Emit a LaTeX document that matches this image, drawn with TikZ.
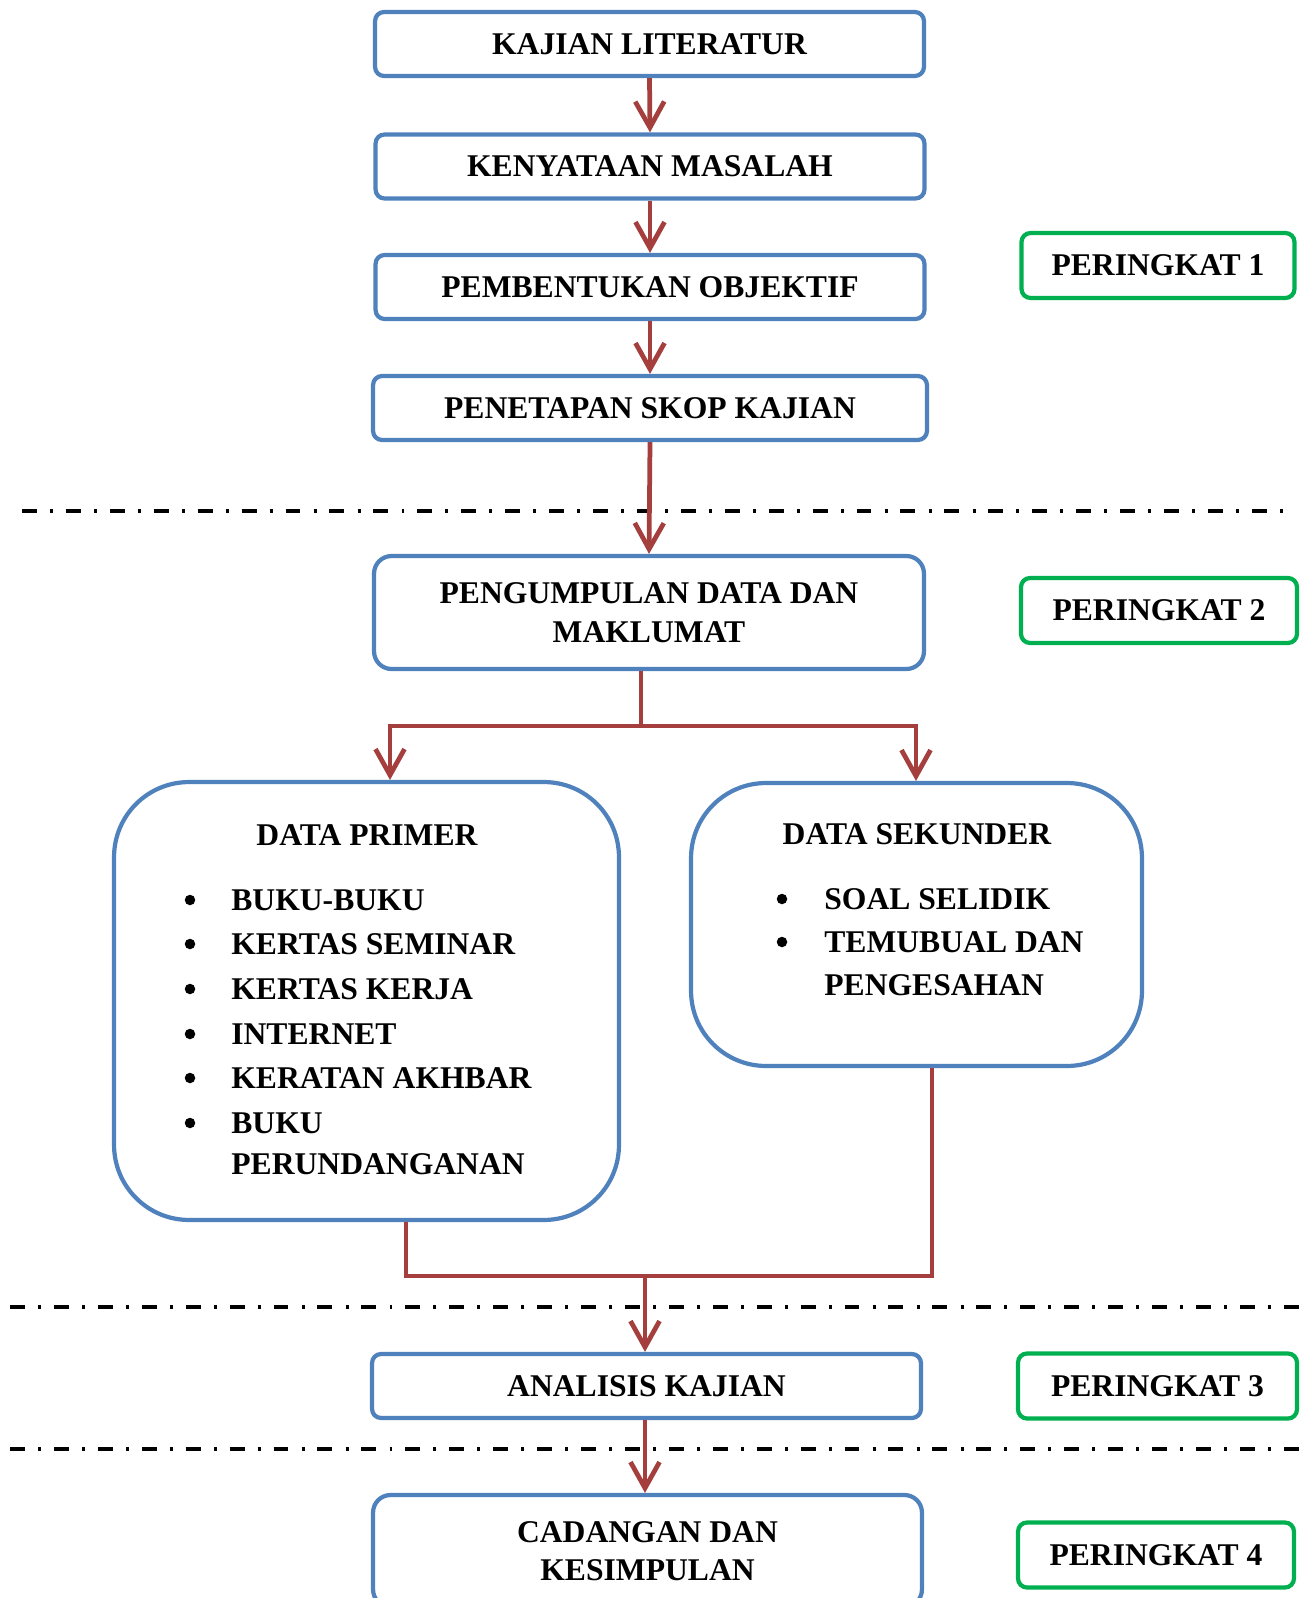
\documentclass[tikz,border=0pt]{standalone}
\usepackage{fontspec}
\setmainfont{Liberation Serif}
\usetikzlibrary{arrows.meta}

\definecolor{boxblue}{HTML}{4F81BD}
\definecolor{flowred}{HTML}{A43F3D}
\definecolor{stagegreen}{HTML}{00B050}

\tikzset{
  every node/.style={font=\fontsize{18pt}{22pt}\selectfont\bfseries},
  stepbox/.style={draw=boxblue,line width=2.4pt,rounded corners=0.18cm,
                  minimum width=10.98cm,minimum height=1.28cm,align=center},
  bigbox/.style={draw=boxblue,line width=2.4pt,rounded corners=1.5cm},
  stagebox/.style={draw=stagegreen,line width=2.4pt,rounded corners=0.18cm,
                   minimum width=5.46cm,minimum height=1.3cm},
  flow/.style={draw=flowred,line width=2.7pt},
  flowarrow/.style={flow,-{Straight Barb[length=0.52cm,width=0.58cm,line width=2.7pt]}},
  sepline/.style={line width=2.4pt,dash pattern=on 8.5pt off 7.5pt on 1.7pt off 7.3pt},
  itemtext/.style={anchor=west,inner sep=0pt},
  dot/.style={circle,fill,inner sep=0pt,minimum size=0.21cm},
}

\begin{document}
\begin{tikzpicture}[x=0.02cm,y=-0.02cm]
\useasboundingbox (0,0) rectangle (1303,1598);

% peringkat 1
\node [stepbox] (kajian)     at (649.5,  44) {KAJIAN LITERATUR};
\node [stepbox] (kenyataan)  at (650  , 166.5) {KENYATAAN MASALAH};
\node [stepbox] (objektif)   at (650  , 287) {PEMBENTUKAN OBJEKTIF};
\node [stepbox,minimum width=11.08cm] (skop) at (650, 408) {PENETAPAN SKOP KAJIAN};

% peringkat 2
\node [stepbox,minimum width=11cm,minimum height=2.26cm,rounded corners=0.35cm]
      (kumpul) at (649, 612.5) {PENGUMPULAN DATA DAN\\MAKLUMAT};
\node [bigbox,minimum width=10.1cm,minimum height=8.76cm]  (primer)   at (366.5,1001) {};
\node [bigbox,minimum width=9.02cm,minimum height=5.66cm]  (sekunder) at (916.5, 924.5) {};

\node (primertitle)   at (367, 835) {DATA PRIMER};
\node (sekundertitle) at (917, 834) {DATA SEKUNDER};

\path
      (231, 900) node [itemtext] (p1) {BUKU-BUKU}
    ++(0  ,  44) node [itemtext] (p2) {KERTAS SEMINAR}
    ++(0  ,  45) node [itemtext] (p3) {KERTAS KERJA}
    ++(0  ,  45) node [itemtext] (p4) {INTERNET}
    ++(0  ,  44) node [itemtext] (p5) {KERATAN AKHBAR}
    ++(0  ,  45) node [itemtext] (p6) {BUKU}
    ++(0  ,  41) node [itemtext] (p7) {PERUNDANGANAN};
\path
    (p1 -| 190,0) node [dot] (b1) {}
    (p2 -| 190,0) node [dot] (b2) {}
    (p3 -| 190,0) node [dot] (b3) {}
    (p4 -| 190,0) node [dot] (b4) {}
    (p5 -| 190,0) node [dot] (b5) {}
    (p6 -| 190,0) node [dot] (b6) {};

\path
      (824, 899) node [itemtext] (s1) {SOAL SELIDIK}
    ++(0  ,  43) node [itemtext] (s2) {TEMUBUAL DAN}
    ++(0  ,  43) node [itemtext] (s3) {PENGESAHAN};
\path
    (s1 -| 782,0) node [dot] (c1) {}
    (s2 -| 782,0) node [dot] (c2) {};

% peringkat 3 dan 4
\node [stepbox] (analisis) at (646.5,1386) {ANALISIS KAJIAN};
\node [stepbox,minimum height=2.24cm,rounded corners=0.35cm]
      (cadangan) at (647.5,1551) {CADANGAN DAN\\KESIMPULAN};

% label peringkat
\node [stagebox]                      (tahap1) at (1158  , 265.5) {PERINGKAT 1};
\node [stagebox,minimum width=5.52cm] (tahap2) at (1159  , 610.5) {PERINGKAT 2};
\node [stagebox,minimum width=5.58cm] (tahap3) at (1157.5,1386  ) {PERINGKAT 3};
\node [stagebox,minimum width=5.52cm] (tahap4) at (1156  ,1555  ) {PERINGKAT 4};

% garis pemisah
\draw [sepline] (22, 511) -- (1289, 511);
\draw [sepline] (10,1307) -- (1299,1307);
\draw [sepline] (10,1449) -- (1299,1449);

% anak panah
\draw [flowarrow] (kajian.south)    -- (kenyataan.north);
\draw [flowarrow] (kenyataan.south) -- (objektif.north);
\draw [flowarrow] (objektif.south)  -- (skop.north);
\draw [flowarrow] (skop.south)      -- (kumpul.north);

\coordinate (split) at (641, 726);
\draw [flow] (kumpul.south -| split) -- (split);
\draw [flowarrow] (split) -| (primer.north -| 390,0);
\draw [flowarrow] (split) -| (sekunder.north -| 916,0);

\coordinate (join) at (645,1276);
\draw [flow] (primer.south -| 406,0) |- (join) -| (sekunder.south -| 932,0);
\draw [flowarrow] (join) -- (analisis.north -| join);
\draw [flowarrow] (analisis.south -| join) -- (cadangan.north -| join);
\end{tikzpicture}
\end{document}
